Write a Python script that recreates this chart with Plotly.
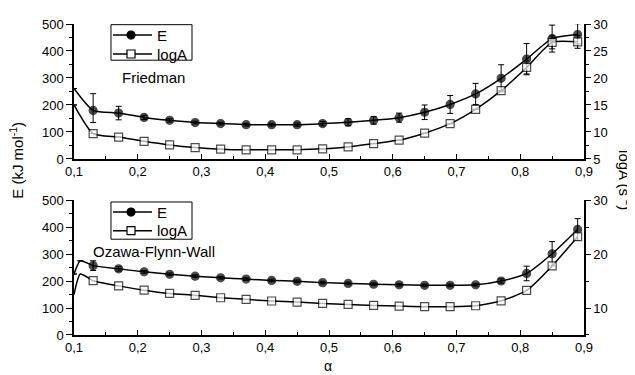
import plotly.graph_objects as go

# ---------------- data ----------------
alpha_pts = [0.13, 0.17, 0.21, 0.25, 0.29, 0.33, 0.37, 0.41, 0.45, 0.49,
             0.53, 0.57, 0.61, 0.65, 0.69, 0.73, 0.77, 0.81, 0.85, 0.89]

# Friedman (top panel)
fr_start_alpha = [0.10]
fr_E_start = [261]
fr_logA_start = [15.0]
fr_E = [180, 170, 154, 143, 135, 131, 127, 127, 127, 131,
        136, 143, 153, 173, 202, 241, 299, 370, 446, 461]
fr_E_err_plus = [62, 25, 8, 6, 5, 5, 5, 5, 6, 8,
                 13, 14, 17, 27, 33, 39, 50, 58, 50, 40]
fr_E_err_minus = [45, 25, 8, 6, 5, 5, 5, 5, 6, 8,
                  13, 14, 17, 27, 33, 39, 50, 58, 50, 35]
fr_logA = [9.7, 9.06, 8.27, 7.6, 7.12, 6.82, 6.7, 6.7, 6.7, 6.88,
           7.24, 7.85, 8.5, 9.78, 11.54, 14.2, 17.65, 21.95, 26.6, 26.7]
fr_logA_err = [None, None, None, None, None, None, None, None, None, None,
               None, None, None, None, None, None, None, 1.2, 1.2, 1.2]

# Ozawa-Flynn-Wall (bottom panel)
ofw_start_alpha = [0.10, 0.11]
ofw_E_start = [226, 275]
ofw_logA_start = [12.5, 16.3]
ofw_E = [257, 245, 234, 225, 218, 212, 207, 202, 199, 194,
         191, 188, 186, 184, 184, 186, 200, 228, 301, 391]
ofw_E_err = [18, 8, 5, 5, 5, 5, 5, 5, 5, 5,
             5, 5, 5, 5, 5, 5, 8, 27, 45, 40]
ofw_logA = [15.06, 14.1, 13.3, 12.7, 12.35, 11.9, 11.6, 11.3, 11.1, 10.84,
            10.66, 10.48, 10.36, 10.24, 10.24, 10.42, 11.33, 13.25, 17.8, 23.2]

x_tickvals = [0.1, 0.2, 0.3, 0.4, 0.5, 0.6, 0.7, 0.8, 0.9]
x_ticktext = ["0,1", "0,2", "0,3", "0,4", "0,5", "0,6", "0,7", "0,8", "0,9"]
E_ticks = [0, 100, 200, 300, 400, 500]
logA_ticks_top = [5, 10, 15, 20, 25, 30]
logA_ticks_bot = [10, 20, 30]
legend_labels = ["E", "logA"]

FONT = "Arial, Liberation Sans, sans-serif"
BLACK = "black"


def series(start_x, start_y, xs, ys, err_p, err_m, symbol, fill, name, xa, ya):
    n0 = len(start_x)
    sizes = [0] * n0 + [8] * len(xs)
    lw = [0] * n0 + [1.2] * len(xs)
    ep = [None] * n0 + list(err_p) if err_p is not None else None
    em = [None] * n0 + list(err_m) if err_m is not None else None
    tr = go.Scatter(
        x=list(start_x) + list(xs), y=list(start_y) + list(ys),
        mode="lines+markers", name=name, xaxis=xa, yaxis=ya, showlegend=False,
        line=dict(color=BLACK, width=1.5, shape="spline", smoothing=0.6),
        marker=dict(symbol=symbol, size=sizes, color=fill,
                    line=dict(color=BLACK, width=lw)),
    )
    if ep is not None:
        tr.error_y = dict(type="data", symmetric=False, array=ep, arrayminus=em,
                          color=BLACK, thickness=1, width=3)
    return tr


fig = go.Figure()
fig.add_trace(series(fr_start_alpha, fr_E_start, alpha_pts, fr_E,
                     fr_E_err_plus, fr_E_err_minus, "circle", BLACK, legend_labels[0], "x", "y"))
fig.add_trace(series(fr_start_alpha, fr_logA_start, alpha_pts, fr_logA,
                     fr_logA_err, fr_logA_err, "square", "white", legend_labels[1], "x", "y2"))
fig.add_trace(series(ofw_start_alpha, ofw_E_start, alpha_pts, ofw_E,
                     ofw_E_err, ofw_E_err, "circle", BLACK, legend_labels[0], "x2", "y3"))
fig.add_trace(series(ofw_start_alpha, ofw_logA_start, alpha_pts, ofw_logA,
                     None, None, "square", "white", legend_labels[1], "x2", "y4"))

tickfont = dict(family=FONT, size=13, color=BLACK)
xcommon = dict(range=[0.1, 0.9], tickmode="array", tickvals=x_tickvals, ticktext=x_ticktext,
               ticks="inside", ticklen=5, tickwidth=1.2, tickcolor=BLACK,
               minor=dict(ticks="inside", ticklen=3, tickwidth=1.2, tickcolor=BLACK,
                          tickmode="linear", tick0=0.15, dtick=0.1),
               showline=True, linecolor=BLACK, linewidth=1.5, showgrid=False,
               zeroline=False, tickfont=tickfont, domain=[0, 1])
ycommon = dict(showline=True, linecolor=BLACK, linewidth=1.5, showgrid=False,
               zeroline=False, tickfont=tickfont, tickcolor=BLACK, tickwidth=1.2)

TOP = [0.566, 1.0]
BOT = [0.0, 0.434]


def ann(text, x, y, size=15, angle=0, xanchor="center"):
    return dict(text=text, xref="paper", yref="paper", x=x, y=y, xanchor=xanchor,
                yanchor="middle", textangle=angle, showarrow=False,
                font=dict(family=FONT, size=size, color=BLACK))


# hand-drawn legend boxes (paper coordinates of the plot area)
shapes = []
annotations = [
    ann("Friedman", 0.155, 0.827),
    ann("Ozawa-Flynn-Wall", 0.157, 0.267),
    ann("E (kJ mol<sup>-1</sup>)", -0.112, 0.563, angle=-90),
    ann("logA (s<sup>-1</sup>)", 1.083, 0.497, angle=90),
    ann("α", 0.498, -0.10, size=14),
]
legend_boxes = [
    dict(y0=0.8836, y1=0.9978, rows=[0.9645, 0.9035]),
    dict(y0=0.308, y1=0.4277, rows=[0.3953, 0.3355]),
]
LX0, LX1 = 0.0725, 0.2314
LINE_X0, LINE_X1, MARK_X, TEXT_X = 0.0765, 0.153, 0.1118, 0.158
for box in legend_boxes:
    shapes.append(dict(type="rect", xref="paper", yref="paper", x0=LX0, x1=LX1,
                       y0=box["y0"], y1=box["y1"], line=dict(color=BLACK, width=1),
                       fillcolor="white", layer="above"))
    for i, (ry, label) in enumerate(zip(box["rows"], legend_labels)):
        shapes.append(dict(type="line", xref="paper", yref="paper", x0=LINE_X0, x1=LINE_X1,
                           y0=ry, y1=ry, line=dict(color=BLACK, width=1.5), layer="above"))
        shapes.append(dict(type="circle" if i == 0 else "rect", xref="paper", yref="paper",
                           xsizemode="pixel", ysizemode="pixel", xanchor=MARK_X, yanchor=ry,
                           x0=-4, x1=4, y0=-4, y1=4,
                           fillcolor=BLACK if i == 0 else "white",
                           line=dict(color=BLACK, width=1.2), layer="above"))
        annotations.append(ann(label, TEXT_X, ry, size=15, xanchor="left"))

fig.update_layout(
    width=627, height=367,
    margin=dict(l=66, r=51, t=9, b=40),
    plot_bgcolor="white", paper_bgcolor="white",
    font=dict(family=FONT, color=BLACK),
    showlegend=False,
    xaxis=dict(anchor="y", **xcommon),
    xaxis2=dict(anchor="y3", **xcommon),
    yaxis=dict(domain=TOP, anchor="x", range=[0, 500], tickmode="array", tickvals=E_ticks,
               ticks="outside", ticklen=6,
               minor=dict(ticks="outside", ticklen=3, tickcolor=BLACK, tickmode="linear",
                          tick0=50, dtick=100), **ycommon),
    yaxis2=dict(overlaying="y", side="right", anchor="x", range=[5, 30], tickmode="array",
                tickvals=logA_ticks_top, ticks="outside", ticklen=5,
                minor=dict(ticks="outside", ticklen=3, tickcolor=BLACK, tickmode="linear",
                           tick0=7.5, dtick=5), **ycommon),
    yaxis3=dict(domain=BOT, anchor="x2", range=[0, 500], tickmode="array", tickvals=E_ticks,
                ticks="outside", ticklen=6,
                minor=dict(ticks="outside", ticklen=3, tickcolor=BLACK, tickmode="linear",
                           tick0=50, dtick=100), **ycommon),
    yaxis4=dict(overlaying="y3", side="right", anchor="x2", range=[5, 30], tickmode="array",
                tickvals=logA_ticks_bot, ticks="outside", ticklen=5,
                minor=dict(ticks="outside", ticklen=3, tickcolor=BLACK, tickmode="linear",
                           tick0=5, dtick=10), **ycommon),
    shapes=shapes,
    annotations=annotations,
)

fig.write_html("out.html")
